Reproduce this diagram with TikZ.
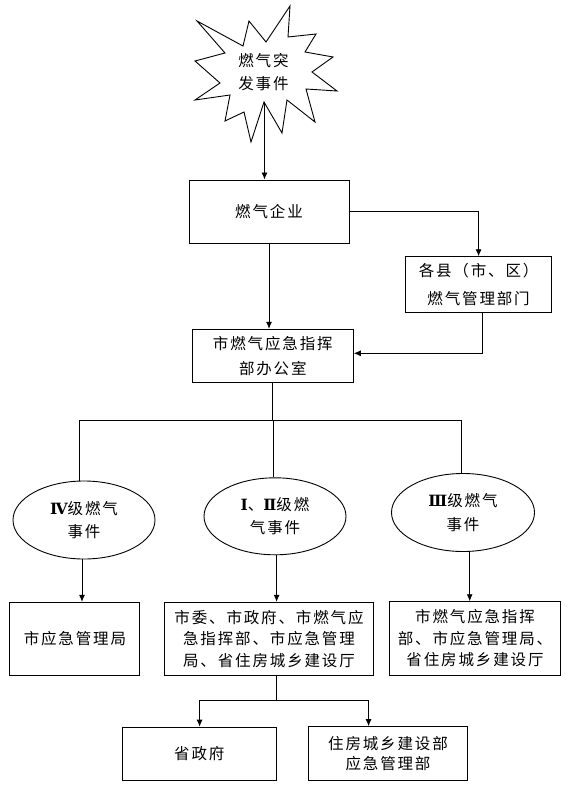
\documentclass[tikz,border=0pt]{standalone}
\usepackage{fontspec}
\setmainfont{Noto Sans CJK SC}[LetterSpace=12]
\newfontfamily\numf{DejaVu Serif}[BoldFont={DejaVu Serif Bold}]
\usetikzlibrary{arrows.meta,calc,shapes.geometric}
\newcommand\fsA{\fontsize{15.5pt}{23.3pt}\selectfont}
\newcommand\fsB{\fontsize{15.5pt}{21.5pt}\selectfont}
\newcommand\fsC{\fontsize{15.5pt}{25pt}\selectfont}
\newcommand\fsD{\fontsize{15.5pt}{28pt}\selectfont}
\newcommand\fsE{\fontsize{15.5pt}{20pt}\selectfont}
\newcommand\rn[1]{{\numf\bfseries #1}}
\tikzset{
  ln/.style={line width=0.9pt, draw=black},
  arr/.style={ln, -{Latex[length=7pt,width=6pt]}},
  box/.style={draw, line width=0.9pt, rectangle, inner sep=0pt, align=center, font=\fsA},
  ell/.style={draw, line width=0.9pt, ellipse, inner sep=0pt, align=center, font=\fsA},
}
\begin{document}
\begin{tikzpicture}[x=1pt,y=-1pt]
\fill[white] (0,0) rectangle (572,794);
\useasboundingbox (0,0) rectangle (572,794);

% starburst
\draw[ln] (197,21) -- (243,46) -- (249,21) -- (266,42) -- (290,6) -- (288,37)
  -- (316,34) -- (305,52) -- (333,57) -- (312,72) -- (337,91) -- (306,89)
  -- (315,122) -- (287,100) -- (282,133) -- (264,102) -- (251,142) -- (244,112)
  -- (225,121) -- (230,95) -- (195,100) -- (220,83) -- (195,61) -- (225,53) -- cycle;
\node[align=center, font=\fsA, inner sep=0pt] (ev) at (263.5,72) {燃气突\\发事件};
\coordinate (sb) at (264.5,102);

% boxes
\node[box, minimum width=160pt, minimum height=63pt] (qy) at (269,211.5) {燃气企业};
\node[box, font=\fsD, minimum width=146pt, minimum height=56pt] (gx) at (478.6,284.7) {各县（市、区）\\燃气管理部门};
\node[box, font=\fsC, minimum width=161pt, minimum height=53.4pt] (zh) at (272.8,356) {市燃气应急指挥\\部办公室};

% ellipses
\node[ell, minimum width=142pt, minimum height=78pt] (e4) at (84,520) {\rn{Ⅳ}级燃气\\事件};
\node[ell, minimum width=142pt, minimum height=77pt] (e12) at (275,516.3) {\rn{Ⅰ}、\rn{Ⅱ}级燃\\气事件};
\node[ell, minimum width=143pt, minimum height=78pt] (e3) at (463,512.5) {\rn{Ⅲ}级燃气\\事件};

% lower boxes
\node[box, minimum width=130pt, minimum height=73pt] (b1) at (74.9,638.8) {市应急管理局};
\node[box, font=\fsB, minimum width=209pt, minimum height=73pt] (b2) at (269,638.8) {市委、市政府、市燃气应\\急指挥部、市应急管理\\局、省住房城乡建设厅};
\node[box, font=\fsB, minimum width=170.4pt, minimum height=73.6pt] (b3) at (475,638.5) {市燃气应急指挥\\部、市应急管理局、\\省住房城乡建设厅};
\node[box, minimum width=154pt, minimum height=53.7pt] (b4) at (199.3,754) {省政府};
\node[box, font=\fsE, minimum width=159.5pt, minimum height=53.3pt] (b5) at (388,753.3) {住房城乡建设部\\应急管理部};

% connectors top
\draw[arr] (sb) -- (sb |- qy.north);
\draw[arr] (qy.south) -- (qy.south |- zh.north);
\draw[arr] (qy.east) -| (gx.north);
\coordinate (gxo) at ($(gx.south)+(3.7,0)$);
\coordinate (zhi) at ($(zh.east)+(0,-2.7)$);
\draw[arr] (gxo) |- (zhi);

% branch to ellipses
\coordinate (jc) at (273.5,420);
\coordinate (jl) at (79.6,420);
\coordinate (jr) at (461.7,420);
\draw[ln] (zh.south) -- (zh.south |- jc);
\draw[ln] (jl) -- (jr);
\draw[ln] (jl) -- (jl |- e4.north);
\draw[ln] (jc) -- (jc |- e12.north);
\draw[ln] (jr) -- (jr |- e3.north);

% ellipses to boxes
\coordinate (e4b) at ($(e4.south)+(-2,0)$);
\coordinate (e12b) at ($(e12.south)+(1.6,0)$);
\coordinate (e3b) at ($(e3.south)+(6.7,0)$);
\draw[arr] (e4b) -- (e4b |- b1.north);
\draw[arr] (e12b) -- (e12b |- b2.north);
\draw[arr] (e3b) -- (e3b |- b3.north);

% bottom branch
\coordinate (jd) at (276.6,700);
\coordinate (jdl) at (199.6,700);
\coordinate (jdr) at (368.6,700);
\draw[ln] (jd |- b2.south) -- (jd);
\draw[ln] (jdl) -- (jdr);
\draw[arr] (jdl) -- (jdl |- b4.north);
\draw[arr] (jdr) -- (jdr |- b5.north);
\end{tikzpicture}
\end{document}
